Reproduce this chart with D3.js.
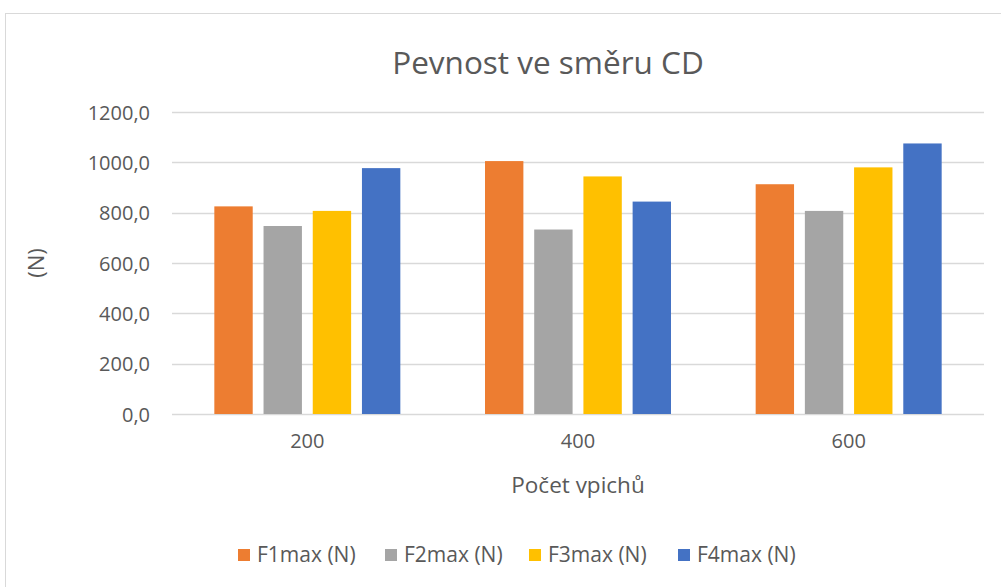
<!DOCTYPE html>
<html>
<head>
<meta charset="utf-8">
<script src="https://cdn.jsdelivr.net/npm/d3@7"></script>
<style>
  body { margin: 0; background: #fff; }
  text { font-family: "Open Sans", sans-serif; fill: #595959; }
</style>
</head>
<body>
<div id="chart"></div>
<script>
// Data
var categories = ["200", "400", "600"];
var seriesNames = ["F1max (N)", "F2max (N)", "F3max (N)", "F4max (N)"];
var seriesColors = ["#ED7D31", "#A5A5A5", "#FFC000", "#4472C4"];
var f1 = [825, 1005, 913];
var f2 = [747, 733, 807];
var f3 = [807, 944, 980];
var f4 = [977, 844, 1075];
var yTicks = [0, 200, 400, 600, 800, 1000, 1200];

var svgWidth = 1001;
var svgHeight = 587;

var chartMargin = { top: 112, right: 17, bottom: 173, left: 172 };
var chartWidth = svgWidth - chartMargin.left - chartMargin.right;
var chartHeight = svgHeight - chartMargin.top - chartMargin.bottom;

var svg = d3.select("#chart")
  .append("svg")
  .attr("width", svgWidth)
  .attr("height", svgHeight);

// chart border
svg.append("rect")
  .attr("x", 5.5)
  .attr("y", 13.5)
  .attr("width", svgWidth)
  .attr("height", svgHeight)
  .attr("fill", "none")
  .attr("stroke", "#d9d9d9");

var chartGroup = svg.append("g")
  .attr("transform", `translate(${chartMargin.left}, ${chartMargin.top})`);

var x0 = d3.scaleBand()
  .domain(categories)
  .range([0, chartWidth])
  .padding(0);

var groupWidth = 186;
var x1 = d3.scaleBand()
  .domain(seriesNames)
  .range([(x0.bandwidth() - groupWidth) / 2, (x0.bandwidth() + groupWidth) / 2])
  .paddingInner(0.22)
  .paddingOuter(0);

var yScale = d3.scaleLinear()
  .domain([0, 1200])
  .range([chartHeight, 0]);

var fmt = d => d3.format(".1f")(d).replace(".", ",");

// gridlines
chartGroup.selectAll(".grid")
  .data(yTicks)
  .enter()
  .append("line")
  .attr("x1", 0)
  .attr("x2", chartWidth)
  .attr("y1", d => Math.round(yScale(d)) + 0.5)
  .attr("y2", d => Math.round(yScale(d)) + 0.5)
  .attr("stroke", "#d9d9d9")
  .attr("stroke-width", 1.3);

// y axis labels
var leftAxis = d3.axisLeft(yScale).tickValues(yTicks).tickFormat(fmt).tickSize(0).tickPadding(22);
var yAxis = chartGroup.append("g").call(leftAxis);
yAxis.select(".domain").remove();
yAxis.selectAll("text")
  .style("font-size", "20px")
  .attr("dy", "0.35em");

// x axis labels
var bottomAxis = d3.axisBottom(x0).tickSize(0).tickPadding(20);
var xAxis = chartGroup.append("g")
  .attr("transform", `translate(0, ${chartHeight})`)
  .call(bottomAxis);
xAxis.select(".domain").remove();
xAxis.selectAll("text").style("font-size", "20px");

// bars
var seriesValues = [f1, f2, f3, f4];
var rows = categories.map((c, i) => ({
  cat: c,
  vals: seriesNames.map((s, j) => ({ name: s, value: seriesValues[j][i], color: seriesColors[j] }))
}));

var groups = chartGroup.selectAll(".cat")
  .data(rows)
  .enter()
  .append("g")
  .attr("transform", d => `translate(${x0(d.cat)}, 0)`);

groups.selectAll("rect")
  .data(d => d.vals)
  .enter()
  .append("rect")
  .attr("x", d => x1(d.name))
  .attr("width", x1.bandwidth())
  .attr("y", d => yScale(d.value))
  .attr("height", d => chartHeight - yScale(d.value))
  .attr("fill", d => d.color);

// title
svg.append("text")
  .attr("x", 548)
  .attr("y", 74)
  .attr("text-anchor", "middle")
  .style("font-size", "31.5px")
  .text("Pevnost ve směru CD");

// axis titles
svg.append("text")
  .attr("x", chartMargin.left + chartWidth / 2)
  .attr("y", 493)
  .attr("text-anchor", "middle")
  .style("font-size", "22.5px")
  .text("Počet vpichů");

svg.append("text")
  .attr("transform", `translate(44, ${chartMargin.top + chartHeight / 2}) rotate(-90)`)
  .attr("text-anchor", "middle")
  .style("font-size", "22px")
  .text("(N)");

// legend
var legendX = [238, 385, 529, 678];
var legend = svg.selectAll(".legend")
  .data(seriesNames)
  .enter()
  .append("g")
  .attr("transform", (d, i) => `translate(${legendX[i]}, 555)`);

legend.append("rect")
  .attr("x", 0)
  .attr("y", -6)
  .attr("width", 12)
  .attr("height", 12)
  .attr("fill", (d, i) => seriesColors[i]);

legend.append("text")
  .attr("x", 19)
  .attr("y", 0)
  .attr("dy", "0.35em")
  .style("font-size", "21px")
  .text(d => d);
</script>
</body>
</html>
